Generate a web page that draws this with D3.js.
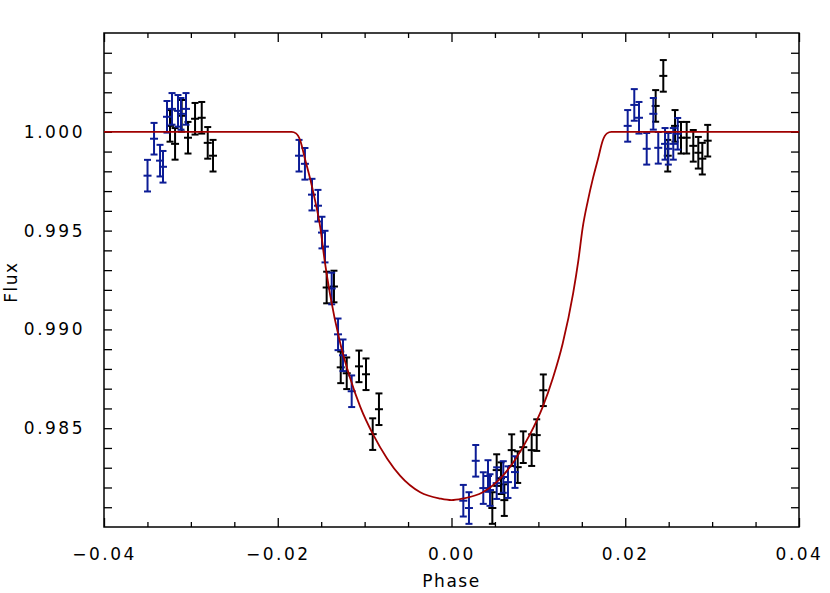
<!DOCTYPE html>
<html>
<head>
<meta charset="utf-8">
<script src="https://cdn.jsdelivr.net/npm/d3@7"></script>
<style>
  html, body { margin: 0; padding: 0; background: #fff; }
  svg { display: block; }
  text { font-family: "DejaVu Sans", sans-serif; fill: #000; }
</style>
</head>
<body>
<script>
// ---- Data ----
const xTicks = [-0.04, -0.02, 0.00, 0.02, 0.04];
const xTickLabels = ["\u22120.04", "\u22120.02", "0.00", "0.02", "0.04"];
const yTicks = [1.000, 0.995, 0.990, 0.985];
const yTickLabels = ["1.000", "0.995", "0.990", "0.985"];

const bluePhase = [-0.03499, -0.03424, -0.03355, -0.03321, -0.03275, -0.03217, -0.03148, -0.03114, -0.03056,
  -0.01755, -0.01687, -0.01606, -0.01537, -0.01491, -0.01456, -0.01379, -0.01306, -0.01249, -0.01149,
  0.00136, 0.00201, 0.00279, 0.00366, 0.00420, 0.00443, 0.00520, 0.00596, 0.00650, 0.00731,
  0.02028, 0.02104, 0.02158, 0.02247, 0.02323, 0.02380, 0.02458, 0.02496, 0.02553, 0.02604];
const blueFlux = [0.99778, 0.99965, 0.99854, 0.99823, 1.00076, 1.00116, 1.00106, 1.00091, 1.00116,
  0.99879, 0.99838, 0.99682, 0.99626, 0.99490, 0.99419, 0.99207, 0.98975, 0.98869, 0.98687,
  0.98133, 0.98096, 0.98335, 0.98197, 0.98258, 0.98187, 0.98222, 0.98253, 0.98227, 0.98278,
  1.00030, 1.00136, 1.00071, 0.99914, 1.00091, 0.99919, 0.99939, 0.99914, 0.99939, 0.99990];

const blackPhase = [-0.03240, -0.03182, -0.03106, -0.03033, -0.02952, -0.02875, -0.02806, -0.02745,
  -0.01437, -0.01353, -0.01275, -0.01206, -0.01065, -0.00984, -0.00835, -0.00907,
  0.00470, 0.00520, 0.00570, 0.00608, 0.00693, 0.00762, 0.00826, 0.00923, 0.00981, 0.01057,
  0.02438, 0.02350, 0.02489, 0.02573, 0.02642, 0.02707, 0.02783, 0.02841, 0.02887, 0.02949];
const blackFlux = [1.00030, 0.99939, 1.00081, 0.99970, 1.00066, 1.00071, 0.99944, 0.99879,
  0.99212, 0.99217, 0.98808, 0.98778, 0.98813, 0.98773, 0.98596, 0.98470,
  0.98096, 0.98288, 0.98247, 0.98136, 0.98389, 0.98303, 0.98404, 0.98389, 0.98465, 0.98692,
  1.00283, 1.00131, 0.99879, 1.00030, 0.99970, 0.99970, 0.99929, 0.99894, 0.99864, 0.99955];

const fluxError = 0.0008;

const modelPhase = [-0.0400, -0.0184, -0.0179, -0.0174, -0.0169, -0.0163, -0.0157, -0.0151, -0.0146, -0.0140,
  -0.0128, -0.0117, -0.0105, -0.0090, -0.0074, -0.0059, -0.0036, -0.0013, 0.0000,
  0.0013, 0.0036, 0.0059, 0.0074, 0.0090, 0.0105, 0.0117, 0.0128,
  0.0140, 0.0146, 0.0151, 0.0157, 0.0163, 0.0169, 0.0174, 0.0179, 0.0184, 0.0400];
const modelFlux = [1.00000, 1.00000, 0.99992, 0.99955, 0.99869, 0.99768, 0.99652, 0.99515, 0.99348, 0.99182,
  0.98929, 0.98758, 0.98608, 0.98466, 0.98346, 0.98259, 0.98176, 0.98144, 0.98136,
  0.98144, 0.98176, 0.98259, 0.98346, 0.98466, 0.98608, 0.98758, 0.98929,
  0.99182, 0.99348, 0.99515, 0.99652, 0.99768, 0.99869, 0.99955, 0.99992, 1.00000, 1.00000];

// ---- Layout ----
const W = 830, H = 593;
const L = 104, R = 799, T = 33, B = 527;

const svg = d3.select("body").append("svg").attr("width", W).attr("height", H);

const x = d3.scaleLinear().domain([-0.04, 0.04]).range([L, R]);
const y = d3.scaleLinear().domain([0.980, 1.005]).range([B, T]);

svg.append("clipPath").attr("id", "clip")
  .append("rect").attr("x", L).attr("y", T).attr("width", R - L).attr("height", B - T);

const xMinor = d3.range(-0.04, 0.0401, 0.005).filter(v => Math.abs(Math.round(v / 0.02) * 0.02 - v) > 1e-9);
const yMinor = d3.range(0.981, 1.0049, 0.001).filter(v => Math.abs(Math.round(v / 0.005) * 0.005 - v) > 1e-9);

const axisStyle = g => {
  g.select(".domain").remove();
  g.selectAll("line").attr("stroke", "#000").attr("stroke-width", 1.3);
};
const fmtX = (d, i) => xTickLabels[i];
const fmtY = (d, i) => yTickLabels[i];

svg.append("g").attr("transform", `translate(0,${B})`)
  .call(d3.axisBottom(x).tickValues(xTicks).tickFormat(fmtX).tickSizeInner(-9).tickSizeOuter(0).tickPadding(21))
  .call(axisStyle)
  .call(g => g.selectAll("text").attr("font-size", 17).attr("letter-spacing", "2.5px")
    .attr("font-family", "DejaVu Sans").attr("fill", "#000"));
svg.append("g").attr("transform", `translate(0,${B})`)
  .call(d3.axisBottom(x).tickValues(xMinor).tickFormat("").tickSizeInner(-5).tickSizeOuter(0))
  .call(axisStyle);
svg.append("g").attr("transform", `translate(0,${T})`)
  .call(d3.axisTop(x).tickValues(xTicks).tickFormat("").tickSizeInner(-9).tickSizeOuter(0))
  .call(axisStyle);
svg.append("g").attr("transform", `translate(0,${T})`)
  .call(d3.axisTop(x).tickValues(xMinor).tickFormat("").tickSizeInner(-5).tickSizeOuter(0))
  .call(axisStyle);

svg.append("g").attr("transform", `translate(${L},0)`)
  .call(d3.axisLeft(y).tickValues(yTicks).tickFormat(fmtY).tickSizeInner(-8).tickSizeOuter(0).tickPadding(19))
  .call(axisStyle)
  .call(g => g.selectAll("text").attr("font-size", 17).attr("letter-spacing", "2.5px")
    .attr("font-family", "DejaVu Sans").attr("fill", "#000"));
svg.append("g").attr("transform", `translate(${L},0)`)
  .call(d3.axisLeft(y).tickValues(yMinor).tickFormat("").tickSizeInner(-8).tickSizeOuter(0))
  .call(axisStyle);
svg.append("g").attr("transform", `translate(${R},0)`)
  .call(d3.axisRight(y).tickValues(yTicks).tickFormat("").tickSizeInner(-8).tickSizeOuter(0))
  .call(axisStyle);
svg.append("g").attr("transform", `translate(${R},0)`)
  .call(d3.axisRight(y).tickValues(yMinor).tickFormat("").tickSizeInner(-8).tickSizeOuter(0))
  .call(axisStyle);

svg.append("rect").attr("x", L).attr("y", T).attr("width", R - L).attr("height", B - T)
  .attr("fill", "none").attr("stroke", "#000").attr("stroke-width", 1.5);

function drawPoints(phase, flux, color) {
  const data = phase.map((p, i) => ({ p, f: flux[i] }));
  const g = svg.append("g").attr("clip-path", "url(#clip)")
    .attr("stroke", color).attr("stroke-width", 2).attr("fill", "none");
  const cap = 3.5, cross = 4;
  const pt = g.selectAll("g").data(data).join("g");
  pt.append("line").attr("x1", d => x(d.p)).attr("x2", d => x(d.p))
    .attr("y1", d => y(d.f - fluxError)).attr("y2", d => y(d.f + fluxError));
  pt.append("line").attr("x1", d => x(d.p) - cap).attr("x2", d => x(d.p) + cap)
    .attr("y1", d => y(d.f - fluxError)).attr("y2", d => y(d.f - fluxError));
  pt.append("line").attr("x1", d => x(d.p) - cap).attr("x2", d => x(d.p) + cap)
    .attr("y1", d => y(d.f + fluxError)).attr("y2", d => y(d.f + fluxError));
  pt.append("line").attr("x1", d => x(d.p) - cross).attr("x2", d => x(d.p) + cross)
    .attr("y1", d => y(d.f)).attr("y2", d => y(d.f));
}
drawPoints(blackPhase, blackFlux, "#000000");
drawPoints(bluePhase, blueFlux, "#0c1c96");

const model = modelPhase.map((p, i) => [p, modelFlux[i]]);
svg.append("path").datum(model)
  .attr("clip-path", "url(#clip)")
  .attr("fill", "none").attr("stroke", "#a00000").attr("stroke-width", 1.8)
  .attr("d", d3.line().x(d => x(d[0])).y(d => y(d[1])).curve(d3.curveMonotoneX));

svg.append("text").attr("x", (L + R) / 2).attr("y", 587).attr("text-anchor", "middle")
  .attr("font-size", 17).attr("letter-spacing", "1.5px").text("Phase");
svg.append("text").attr("transform", `translate(17,${(T + B) / 2 + 2}) rotate(-90)`)
  .attr("text-anchor", "middle").attr("font-size", 17).attr("letter-spacing", "1.5px").text("Flux");
</script>
</body>
</html>
